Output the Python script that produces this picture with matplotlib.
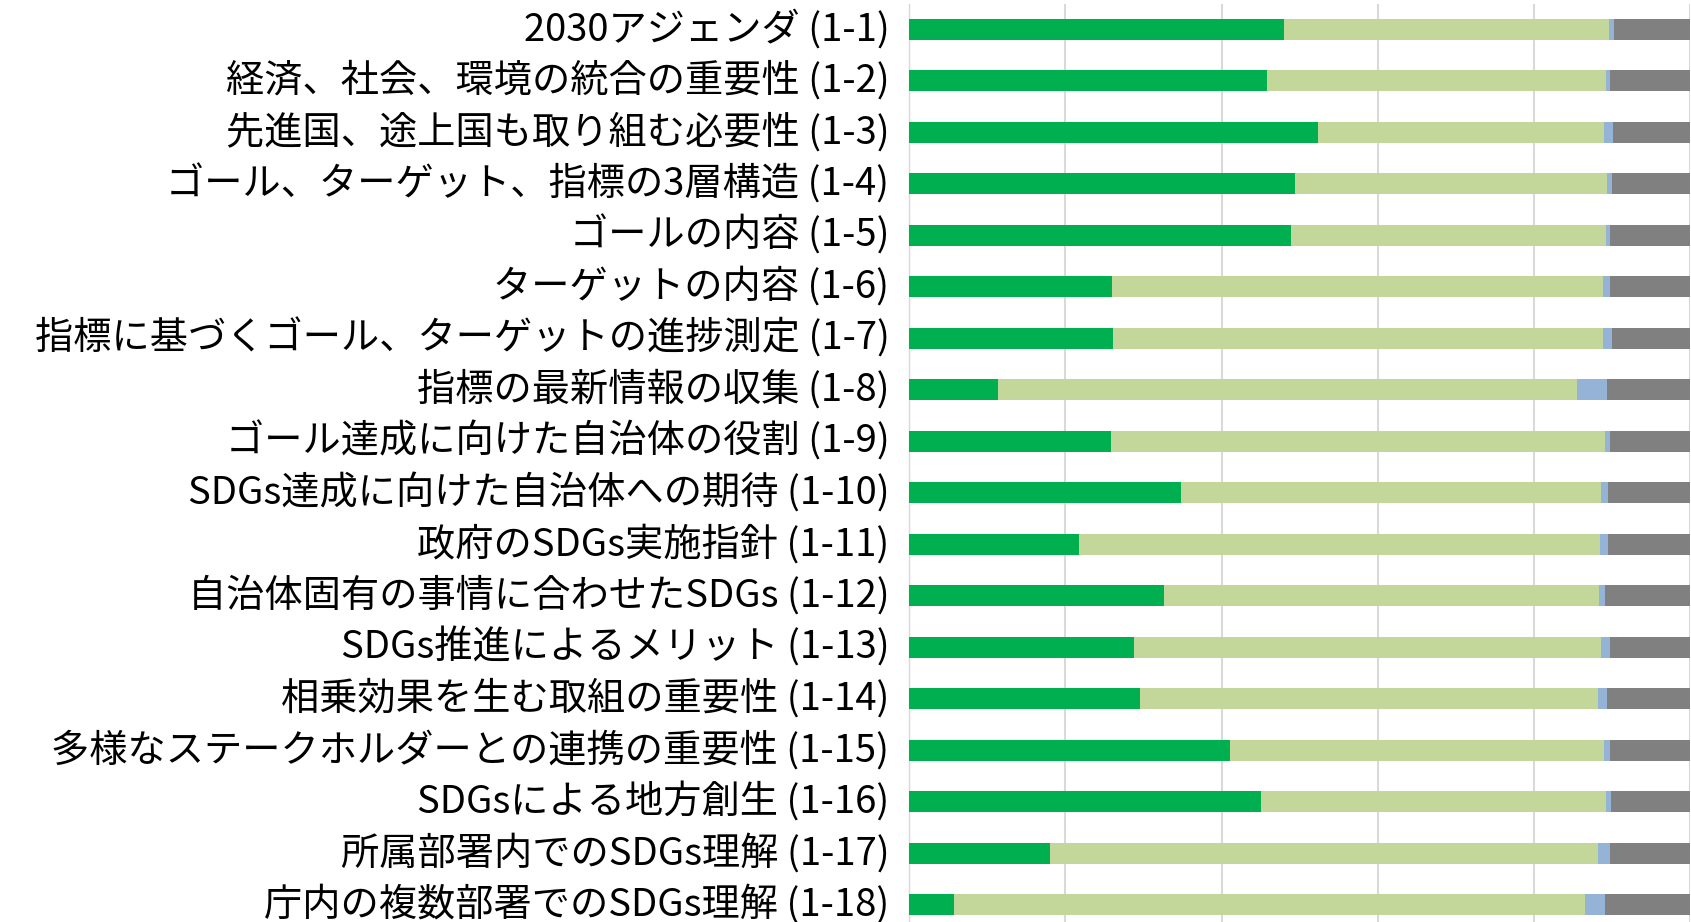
import matplotlib.pyplot as plt
import matplotlib.transforms as mtransforms
import numpy as np

plt.rcParams['font.family'] = ['Noto Sans CJK JP', 'DejaVu Sans']

labels = [
    "2030アジェンダ (1-1)",
    "経済、社会、環境の統合の重要性 (1-2)",
    "先進国、途上国も取り組む必要性 (1-3)",
    "ゴール、ターゲット、指標の3層構造 (1-4)",
    "ゴールの内容 (1-5)",
    "ターゲットの内容 (1-6)",
    "指標に基づくゴール、ターゲットの進捗測定 (1-7)",
    "指標の最新情報の収集 (1-8)",
    "ゴール達成に向けた自治体の役割 (1-9)",
    "SDGs達成に向けた自治体への期待 (1-10)",
    "政府のSDGs実施指針 (1-11)",
    "自治体固有の事情に合わせたSDGs (1-12)",
    "SDGs推進によるメリット (1-13)",
    "相乗効果を生む取組の重要性 (1-14)",
    "多様なステークホルダーとの連携の重要性 (1-15)",
    "SDGsによる地方創生 (1-16)",
    "所属部署内でのSDGs理解 (1-17)",
    "庁内の複数部署でのSDGs理解 (1-18)",
]

# percentages per segment
dark_green = [48.0, 45.8, 52.3, 49.4, 48.9, 26.0, 26.1, 11.4, 25.8,
              34.8, 21.7, 32.6, 28.8, 29.6, 41.1, 45.0, 18.1, 5.8]
light_green = [41.6, 43.4, 36.6, 39.9, 40.3, 62.8, 62.7, 74.1, 63.3,
               53.7, 66.7, 55.7, 59.8, 58.6, 47.8, 44.2, 70.1, 80.7]
blue = [0.6, 0.5, 1.2, 0.7, 0.5, 0.9, 1.2, 3.8, 0.6,
        1.0, 1.1, 0.7, 1.1, 1.1, 0.8, 0.6, 1.5, 2.5]
gray = [9.8, 10.3, 9.9, 10.0, 10.3, 10.3, 10.0, 10.7, 10.3,
        10.5, 10.5, 11.0, 10.3, 10.7, 10.3, 10.2, 10.3, 11.0]

series = [dark_green, light_green, blue, gray]
colors = ["#00B050", "#C4D79B", "#95B3D7", "#808080"]

fig = plt.figure(figsize=(16.91, 9.22), dpi=100)
ax = fig.add_axes([0.5375, -0.0092, 0.4622, 1.0054])

y = np.arange(len(labels))
left = np.zeros(len(labels))
for vals, c in zip(series, colors):
    ax.barh(y, vals, left=left, height=0.4, color=c, linewidth=0, zorder=3)
    left += np.array(vals)

ax.set_xlim(0, 100)
ax.set_ylim(len(labels) - 0.5, -0.5)
ax.set_xticks([0, 20, 40, 60, 80, 100])
ax.xaxis.grid(True, color="#D9D9D9", linewidth=1.5, zorder=0)
ax.tick_params(axis="x", length=0, labelbottom=False)
ax.set_yticks(y)
ax.set_yticklabels(labels, fontsize=27.5)
ax.tick_params(axis="y", length=0, pad=14)

# nudge the labels up a little so the last one is not cut off
shift = mtransforms.ScaledTranslation(0, 3 / 72, fig.dpi_scale_trans)
for lab in ax.get_yticklabels():
    lab.set_transform(lab.get_transform() + shift)

for s in ["top", "right", "bottom"]:
    ax.spines[s].set_visible(False)
ax.spines["left"].set_color("#D9D9D9")
ax.spines["left"].set_linewidth(1.0)

fig.savefig("out.png", dpi=100)
